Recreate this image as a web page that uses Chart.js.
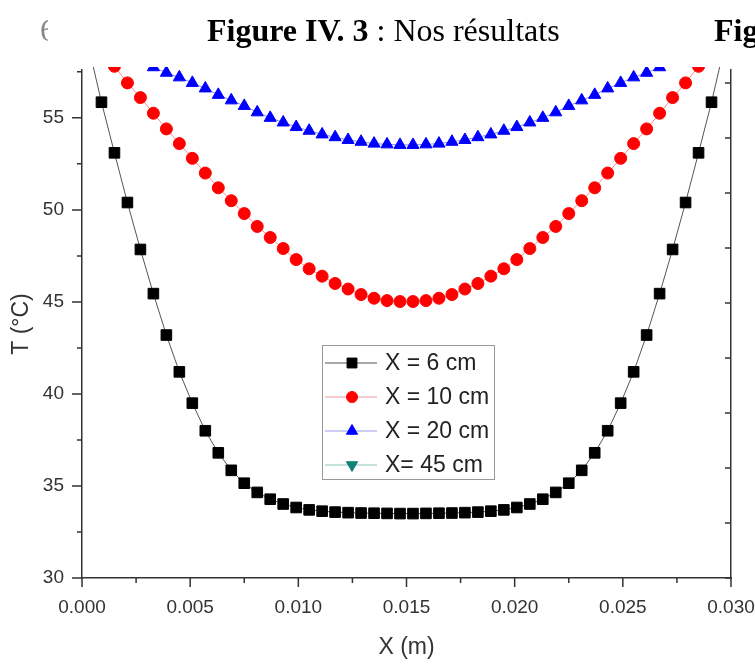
<!DOCTYPE html>
<html>
<head>
<meta charset="utf-8">
<script src="https://cdn.jsdelivr.net/npm/chart.js@4.4.0/dist/chart.umd.min.js"></script>
<style>
  body { margin: 0; background: #fff; }
  #wrap { position: relative; width: 755px; height: 664px; overflow: hidden; }
  canvas { position: absolute; left: 0; top: 0; }
  .cap { position: absolute; font-family: "Liberation Serif", "Times New Roman", serif; font-size: 32px; color: #000; white-space: nowrap; line-height: 1; }
</style>
</head>
<body>
<div id="wrap">
  <canvas id="chart" width="755" height="664"></canvas>
  <div class="cap" style="left:207px; top:14px;"><b>Figure IV. 3</b> : Nos résultats</div>
  <div class="cap" style="left:714px; top:14px;"><b>Fig</b></div>
  <div class="cap" style="left:40px; top:14px; width:8px; overflow:hidden; color:#888;">6</div>
</div>
<script>
// x positions of the computed nodes (m)
const xPos = [0.0003, 0.0009, 0.0015, 0.0021, 0.0027, 0.0033, 0.0039, 0.0045, 0.0051, 0.0057,
  0.0063, 0.0069, 0.0075, 0.0081, 0.0087, 0.0093, 0.0099, 0.0105, 0.0111, 0.0117,
  0.0123, 0.0129, 0.0135, 0.0141, 0.0147, 0.0153, 0.0159, 0.0165, 0.0171, 0.0177,
  0.0183, 0.0189, 0.0195, 0.0201, 0.0207, 0.0213, 0.0219, 0.0225, 0.0231, 0.0237,
  0.0243, 0.0249, 0.0255, 0.0261, 0.0267, 0.0273, 0.0279, 0.0285, 0.0291, 0.0297];

// T (°C) for X = 6 cm
const t6 = [58.9, 55.85, 53.1, 50.4, 47.85, 45.45, 43.2, 41.2, 39.5, 38.0,
  36.8, 35.85, 35.15, 34.65, 34.28, 34.02, 33.83, 33.7, 33.63, 33.58,
  33.55, 33.53, 33.52, 33.51, 33.5, 33.5, 33.51, 33.52, 33.53, 33.55,
  33.58, 33.63, 33.7, 33.83, 34.02, 34.28, 34.65, 35.15, 35.85, 36.8,
  38.0, 39.5, 41.2, 43.2, 45.45, 47.85, 50.4, 53.1, 55.85, 58.9];

// T (°C) for X = 10 cm
const t10 = [59.7, 58.75, 57.8, 56.9, 56.1, 55.25, 54.4, 53.6, 52.8, 52.0,
  51.2, 50.5, 49.8, 49.1, 48.5, 47.9, 47.3, 46.8, 46.4, 46.0,
  45.7, 45.4, 45.2, 45.07, 45.02, 45.02, 45.07, 45.2, 45.4, 45.7,
  46.0, 46.4, 46.8, 47.3, 47.9, 48.5, 49.1, 49.8, 50.5, 51.2,
  52.0, 52.8, 53.6, 54.4, 55.25, 56.1, 56.9, 57.8, 58.75, 59.7];

// T (°C) for X = 20 cm
const t20 = [59.3, 59.0, 58.7, 58.4, 58.05, 57.75, 57.45, 57.2, 56.9, 56.6,
  56.25, 55.95, 55.65, 55.3, 55.0, 54.75, 54.5, 54.3, 54.1, 53.95,
  53.8, 53.7, 53.6, 53.56, 53.53, 53.53, 53.56, 53.6, 53.7, 53.8,
  53.95, 54.1, 54.3, 54.5, 54.75, 55.0, 55.3, 55.65, 55.95, 56.25,
  56.6, 56.9, 57.2, 57.45, 57.75, 58.05, 58.4, 58.7, 59.0, 59.3];

// X = 45 cm: no point inside the visible window
const t45 = [];

const seriesLabels = ['X = 6 cm', 'X = 10 cm', 'X = 20 cm', 'X= 45 cm'];

const xTicks = [0, 0.005, 0.010, 0.015, 0.020, 0.025, 0.030];
const xMinor = [0.0025, 0.0075, 0.0125, 0.0175, 0.0225, 0.0275];
const yTicks = [30, 35, 40, 45, 50, 55];
const yMinor = [32.5, 37.5, 42.5, 47.5, 52.5, 57.5];
const rightTicks = [0, 1, 2, 3, 4, 5, 6, 7, 8, 9];

function pts(ys) {
  return ys.map((v, i) => ({x: xPos[i], y: v}));
}

const tickFont = {family: '"Liberation Sans", Arial, sans-serif', size: 19};
const titleFont = {family: '"Liberation Sans", Arial, sans-serif', size: 23};

// draws the tick marks and the framed legend
const decor = {
  id: 'decor',
  afterDraw(chart) {
    const ctx = chart.ctx;
    const a = chart.chartArea;
    const sx = chart.scales.x, sy = chart.scales.y, sr = chart.scales.y2;
    ctx.save();
    ctx.strokeStyle = '#333';
    ctx.lineWidth = 1.5;
    ctx.beginPath();
    yTicks.forEach(v => { const p = sy.getPixelForValue(v); ctx.moveTo(a.left - 10, p); ctx.lineTo(a.left, p); });
    yMinor.forEach(v => { const p = sy.getPixelForValue(v); ctx.moveTo(a.left - 5, p); ctx.lineTo(a.left, p); });
    xTicks.forEach(v => { const p = sx.getPixelForValue(v); ctx.moveTo(p, a.bottom); ctx.lineTo(p, a.bottom + 9); });
    xMinor.forEach(v => { const p = sx.getPixelForValue(v); ctx.moveTo(p, a.bottom); ctx.lineTo(p, a.bottom + 5); });
    rightTicks.forEach(v => { const p = sr.getPixelForValue(v); ctx.moveTo(a.right - 6, p); ctx.lineTo(a.right, p); });
    ctx.stroke();

    // legend box
    const bx = 322, by = 345, bw = 172, bh = 134;
    ctx.fillStyle = '#fff';
    ctx.fillRect(bx, by, bw, bh);
    ctx.strokeStyle = '#999';
    ctx.lineWidth = 1;
    ctx.strokeRect(bx + 0.5, by + 0.5, bw, bh);
    ctx.font = '23px "Liberation Sans", Arial, sans-serif';
    ctx.textBaseline = 'middle';
    chart.data.datasets.forEach((ds, i) => {
      const cy = by + 18 + i * 34;
      ctx.strokeStyle = ds.legendLine;
      ctx.lineWidth = 1;
      ctx.beginPath();
      ctx.moveTo(bx + 3, cy);
      ctx.lineTo(bx + 55, cy);
      ctx.stroke();
      ctx.fillStyle = ds.pointBackgroundColor;
      ctx.strokeStyle = ds.pointBorderColor;
      Chart.helpers.drawPoint(ctx, {
        pointStyle: ds.pointStyle, rotation: ds.pointRotation || 0,
        radius: ds.pointRadius - 0.5, borderWidth: 1
      }, bx + 30, cy);
      ctx.fillStyle = '#222';
      ctx.fillText(ds.label, bx + 63, cy + 1);
    });
    ctx.restore();
  }
};

new Chart(document.getElementById('chart'), {
  type: 'line',
  data: {
    datasets: [
      { label: seriesLabels[0], data: pts(t6), borderColor: '#555', borderWidth: 1, legendLine: '#555',
        pointStyle: 'rect', pointRadius: 7.5, pointBackgroundColor: '#000', pointBorderColor: '#000', pointBorderWidth: 1 },
      { label: seriesLabels[1], data: pts(t10), borderColor: '#ff8a8a', borderWidth: 1, legendLine: '#f19a9a',
        pointStyle: 'circle', pointRadius: 6, pointBackgroundColor: '#ff0000', pointBorderColor: '#ff0000', pointBorderWidth: 1 },
      { label: seriesLabels[2], data: pts(t20), borderColor: '#8a8aff', borderWidth: 1, legendLine: '#9a9af1',
        pointStyle: 'triangle', pointRadius: 7, pointBackgroundColor: '#0000ff', pointBorderColor: '#0000ff', pointBorderWidth: 1 },
      { label: seriesLabels[3], data: pts(t45), borderColor: '#6fb0ac', borderWidth: 1, legendLine: '#8fc3bf',
        pointStyle: 'triangle', pointRotation: 180, pointRadius: 7, pointBackgroundColor: '#137f7a', pointBorderColor: '#137f7a', pointBorderWidth: 1 }
    ]
  },
  options: {
    responsive: false,
    animation: false,
    clip: {left: 0, top: 3, right: 0, bottom: 0},
    layout: { padding: {left: 0, right: 0, top: 70, bottom: 0} },
    plugins: { legend: { display: false }, tooltip: { enabled: false } },
    elements: { line: { tension: 0 } },
    scales: {
      x: {
        type: 'linear', min: 0, max: 0.030,
        afterBuildTicks: s => { s.ticks = xTicks.map(v => ({value: v})); },
        afterFit: s => { s.height = 86; s.paddingLeft = 0; s.paddingRight = 0; },
        grid: { drawOnChartArea: false, drawTicks: false },
        border: { display: true, color: '#333', width: 1.5 },
        ticks: { color: '#333', font: tickFont, padding: 18, maxRotation: 0, callback: v => v.toFixed(3) },
        title: { display: true, text: 'X (m)', color: '#333', font: titleFont, padding: {top: 0, bottom: 3} }
      },
      y: {
        type: 'linear', min: 30, max: 57.6,
        afterBuildTicks: s => { s.ticks = yTicks.map(v => ({value: v})); },
        afterFit: s => { s.width = 82; s.paddingTop = 0; s.paddingBottom = 0; },
        grid: { drawOnChartArea: false, drawTicks: false },
        border: { display: true, color: '#333', width: 1.5 },
        ticks: { color: '#333', font: tickFont, padding: 18 },
        title: { display: true, text: 'T (°C)', color: '#333', font: titleFont, padding: {top: 8, bottom: 0} }
      },
      y2: {
        type: 'linear', position: 'right', min: 0, max: 9.236,
        afterFit: s => { s.width = 24; s.paddingTop = 0; s.paddingBottom = 0; },
        grid: { drawOnChartArea: false, drawTicks: false },
        border: { display: true, color: '#333', width: 1.5 },
        ticks: { display: false }
      }
    }
  },
  plugins: [decor]
});
</script>
</body>
</html>
